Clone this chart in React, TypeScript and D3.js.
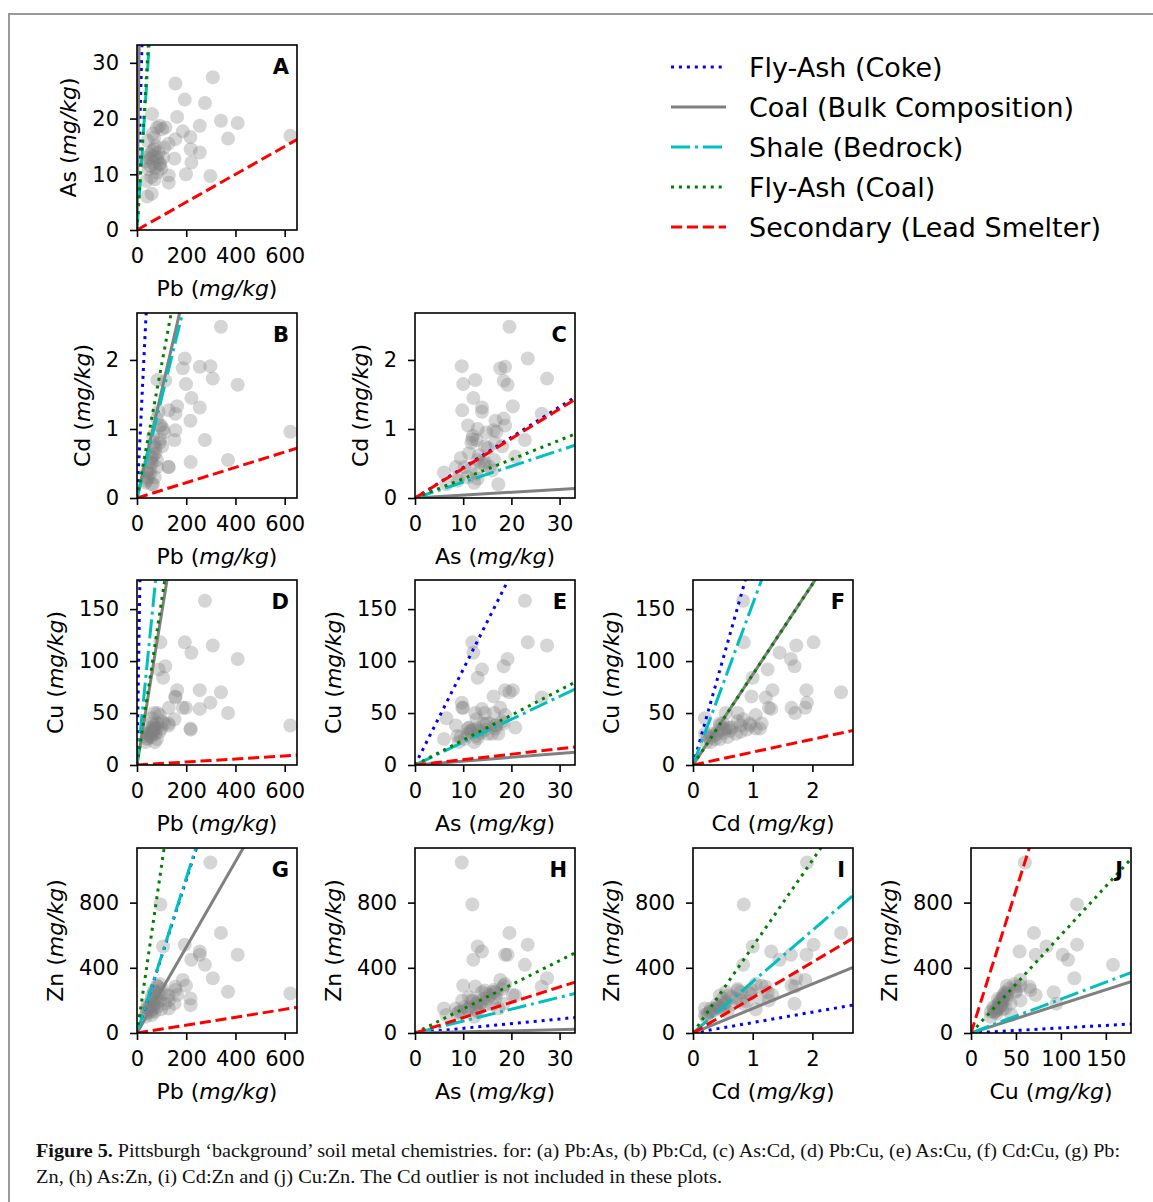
import { useEffect, useRef } from "react";
import * as d3 from "d3";

// soil samples, mg/kg (one entry per sample)
const pbVals = [623, 409, 370, 341, 308, 298, 276, 255, 255, 221, 217, 194, 199, 186, 156, 163, 156, 152, 129, 129, 115, 92, 81, 75, 68, 54, 61, 70, 81, 72, 41, 38, 95, 88, 47, 81, 92, 61, 43, 106, 54, 102, 41, 75, 54, 218, 128, 83, 65, 110, 60, 35, 70, 98, 58, 65];
const asVals = [16.9, 19.2, 16.4, 19.6, 27.4, 9.7, 22.8, 18.7, 13.9, 12.1, 16.7, 23.4, 10.0, 17.7, 26.3, 20.3, 16.3, 12.8, 9.8, 8.5, 18.4, 11.7, 18.4, 15.1, 13.3, 12.8, 20.8, 16.6, 10.3, 9.1, 6.0, 8.8, 11.9, 13.9, 10.9, 13.0, 18.7, 14.2, 16.0, 13.0, 11.5, 18.1, 13.0, 11.2, 13.6, 14.5, 15.5, 12.5, 12.0, 14.8, 6.5, 12.3, 14.5, 11.0, 9.5, 17.3];
const cdVals = [0.96, 1.64, 0.55, 2.48, 1.73, 1.91, 0.84, 1.9, 1.31, 1.45, 1.12, 2.02, 1.65, 1.88, 1.22, 1.33, 0.98, 0.84, 1.27, 0.45, 1.7, 0.8, 1.15, 0.72, 0.62, 0.35, 0.6, 0.8, 0.45, 0.3, 0.37, 0.25, 0.85, 1.25, 0.3, 0.55, 1.05, 0.5, 0.4, 1.0, 0.42, 0.75, 0.28, 0.65, 0.52, 0.52, 0.45, 1.71, 0.9, 0.95, 0.2, 0.22, 0.75, 1.05, 0.58, 0.2];
const cuVals = [38, 102, 50, 70, 115, 60, 158, 72, 54, 108, 35, 118, 55, 55, 65, 72, 66, 44, 55, 38, 95, 32, 40, 30, 33, 28, 36, 38, 25, 22, 25, 28, 118, 92, 30, 35, 48, 40, 30, 84, 33, 42, 26, 36, 31, 34, 40, 50, 34, 40, 45, 22, 50, 35, 27, 30];
const znVals = [243, 480, 253, 614, 336, 1046, 418, 480, 500, 449, 212, 542, 290, 325, 284, 233, 264, 180, 200, 150, 180, 200, 290, 210, 170, 140, 230, 250, 160, 130, 150, 120, 789, 250, 150, 190, 300, 210, 175, 531, 160, 270, 130, 220, 180, 171, 230, 285, 195, 240, 110, 100, 260, 145, 130, 150];

// axis ranges and ticks per element
const elements = ["Pb", "As", "Cd", "Cu", "Zn"];
const axisMax = [650, 33.2, 2.68, 178, 1135];
const pbTicks = [0, 200, 400, 600];
const asTicks = [0, 10, 20, 30];
const cdTicks = [0, 1, 2];
const cuTicks = [0, 50, 100, 150];
const znTicks = [0, 400, 800];

// panels: x element vs y element
const panelIds = ["A", "B", "C", "D", "E", "F", "G", "H", "I", "J"];
const panelX = ["Pb", "Pb", "As", "Pb", "As", "Cd", "Pb", "As", "Cd", "Cu"];
const panelY = ["As", "Cd", "Cd", "Cu", "Cu", "Cu", "Zn", "Zn", "Zn", "Zn"];

// source ratio lines (slope y/x, one per panel A..J)
const sourceNames = ["Fly-Ash (Coke)", "Coal (Bulk Composition)", "Shale (Bedrock)", "Fly-Ash (Coal)", "Secondary (Lead Smelter)"];
const cokeSlopes = [1.64, 0.072, 0.044, 15.1, 9.2, 203, 4.7, 2.87, 64, 0.31];
const coalSlopes = [3.9, 0.0155, 0.0042, 1.46, 0.37, 87, 2.63, 0.67, 150, 1.77];
const shaleSlopes = [0.67, 0.0145, 0.023, 2.36, 2.2, 155, 4.75, 7.3, 315, 2.08];
const flyCoalSlopes = [0.72, 0.0193, 0.0279, 1.58, 2.4, 87, 10.3, 14.8, 530, 6.0];
const smelterSlopes = [0.025, 0.00111, 0.043, 0.0145, 0.52, 12.4, 0.242, 9.4, 217, 17.5];

const W = 1153;
const H = 1202;
const PW = 160;
const PH = 185;
const colLeft = [137, 415, 693, 971];
const rowTop = [45, 313, 580, 848];
const FONT = "DejaVu Sans, Verdana, sans-serif";
const TICK_FS = 21;
const LABEL_FS = 22;

export default function App() {
  const ref = useRef<SVGSVGElement>(null);

  useEffect(() => {
    document.body.style.margin = "0";
    const svg = d3.select(ref.current);
    svg.selectAll("*").remove();

    svg.append("rect").attr("width", W).attr("height", H).attr("fill", "#fff");
    svg
      .append("path")
      .attr("d", `M9,${H} V14 H${W}`)
      .attr("fill", "none")
      .attr("stroke", "#999")
      .attr("stroke-width", 2);

    const ticksOf: Record<string, number[]> = { Pb: pbTicks, As: asTicks, Cd: cdTicks, Cu: cuTicks, Zn: znTicks };
    const maxOf = (e: string) => axisMax[elements.indexOf(e)];
    const valsOf: Record<string, number[]> = { Pb: pbVals, As: asVals, Cd: cdVals, Cu: cuVals, Zn: znVals };
    const slopes = [cokeSlopes, coalSlopes, shaleSlopes, flyCoalSlopes, smelterSlopes];
    const colors = ["#0000ff", "#808080", "#00bfbf", "#008000", "#ff0000"];
    const dashes = ["3,4.95", null, "19.2,4.8,3,4.8", "3,4.95", "11.1,4.8"];
    const xOrder = ["Pb", "As", "Cd", "Cu"];
    const yOrder = ["As", "Cd", "Cu", "Zn"];
    const idx = d3.range(pbVals.length);

    const label = (sel: any, el: string) => {
      sel.append("tspan").text(`${el} (`);
      sel.append("tspan").attr("font-style", "italic").text("mg/kg");
      sel.append("tspan").text(")");
    };

    panelIds.forEach((id, p) => {
      const xe = panelX[p];
      const ye = panelY[p];
      const x0 = colLeft[xOrder.indexOf(xe)];
      const y0 = rowTop[yOrder.indexOf(ye)];
      const x = d3.scaleLinear().domain([0, maxOf(xe)]).range([0, PW]);
      const y = d3.scaleLinear().domain([0, maxOf(ye)]).range([PH, 0]);
      const g = svg.append("g").attr("transform", `translate(${x0},${y0})`);

      const clipId = `clip-${id}`;
      g.append("clipPath").attr("id", clipId).append("rect").attr("width", PW).attr("height", PH);
      const plot = g.append("g").attr("clip-path", `url(#${clipId})`);

      plot
        .selectAll("circle")
        .data(idx)
        .join("circle")
        .attr("cx", (i) => x(valsOf[xe][i]))
        .attr("cy", (i) => y(valsOf[ye][i]))
        .attr("r", 7)
        .attr("fill", "#808080")
        .attr("fill-opacity", 0.33);

      slopes.forEach((sl, s) => {
        const xm = maxOf(xe);
        const ln = plot
          .append("line")
          .attr("x1", x(0))
          .attr("y1", y(0))
          .attr("x2", x(xm))
          .attr("y2", y(sl[p] * xm))
          .attr("stroke", colors[s])
          .attr("stroke-width", 3);
        if (dashes[s]) ln.attr("stroke-dasharray", dashes[s]!);
      });

      const ax = g
        .append("g")
        .attr("transform", `translate(0,${PH})`)
        .call(d3.axisBottom(x).tickValues(ticksOf[xe]).tickSize(7).tickPadding(11).tickFormat(d3.format("d")));
      const ay = g
        .append("g")
        .call(d3.axisLeft(y).tickValues(ticksOf[ye]).tickSize(7).tickPadding(11).tickFormat(d3.format("d")));
      [ax, ay].forEach((a) => {
        a.select(".domain").remove();
        a.attr("font-family", FONT).attr("font-size", TICK_FS);
        a.selectAll("line").attr("stroke", "#000").attr("stroke-width", 1.6);
        a.selectAll("text").attr("fill", "#000");
      });

      g.append("rect")
        .attr("width", PW)
        .attr("height", PH)
        .attr("fill", "none")
        .attr("stroke", "#000")
        .attr("stroke-width", 1.6);

      g.append("text")
        .attr("x", PW - 8)
        .attr("y", 29)
        .attr("text-anchor", "end")
        .attr("font-family", FONT)
        .attr("font-weight", "bold")
        .attr("font-size", 21)
        .text(id);

      const xl = g
        .append("text")
        .attr("x", PW / 2)
        .attr("y", PH + 66)
        .attr("text-anchor", "middle")
        .attr("font-family", FONT)
        .attr("font-size", LABEL_FS);
      label(xl, xe);

      const digits = d3.max(ticksOf[ye], (t) => String(t).length) ?? 1;
      const bx = -(7 + 11) - digits * 0.636 * TICK_FS - 16;
      const yl = g
        .append("text")
        .attr("transform", `translate(${bx},${PH / 2}) rotate(-90)`)
        .attr("text-anchor", "middle")
        .attr("font-family", FONT)
        .attr("font-size", LABEL_FS);
      label(yl, ye);
    });

    // legend
    const lg = svg.append("g").attr("transform", "translate(671,67)");
    sourceNames.forEach((name, s) => {
      const row = lg.append("g").attr("transform", `translate(0,${s * 40})`);
      const ln = row
        .append("line")
        .attr("x1", 0)
        .attr("x2", 55)
        .attr("stroke", colors[s])
        .attr("stroke-width", 3);
      if (dashes[s]) ln.attr("stroke-dasharray", dashes[s]!);
      row
        .append("text")
        .attr("x", 78)
        .attr("y", 9.5)
        .attr("font-family", FONT)
        .attr("font-size", 27)
        .attr("fill", "#000")
        .text(name);
    });

    // caption
    const cap1 = svg
      .append("text")
      .attr("x", 36)
      .attr("y", 1157)
      .attr("font-family", "Liberation Serif, Times New Roman, serif")
      .attr("font-size", 18)
      .attr("fill", "#111")
      .attr("textLength", 1084)
      .attr("lengthAdjust", "spacingAndGlyphs");
    cap1.append("tspan").attr("font-weight", "bold").text("Figure 5.");
    cap1
      .append("tspan")
      .text(" Pittsburgh ‘background’ soil metal chemistries. for: (a) Pb:As, (b) Pb:Cd, (c) As:Cd, (d) Pb:Cu, (e) As:Cu, (f) Cd:Cu, (g) Pb:");
    svg
      .append("text")
      .attr("x", 36)
      .attr("y", 1183)
      .attr("font-family", "Liberation Serif, Times New Roman, serif")
      .attr("font-size", 18)
      .attr("fill", "#111")
      .attr("textLength", 686)
      .attr("lengthAdjust", "spacingAndGlyphs")
      .text("Zn, (h) As:Zn, (i) Cd:Zn and (j) Cu:Zn. The Cd outlier is not included in these plots.");
  }, []);

  return <svg ref={ref} width={W} height={H} style={{ display: "block" }} />;
}
